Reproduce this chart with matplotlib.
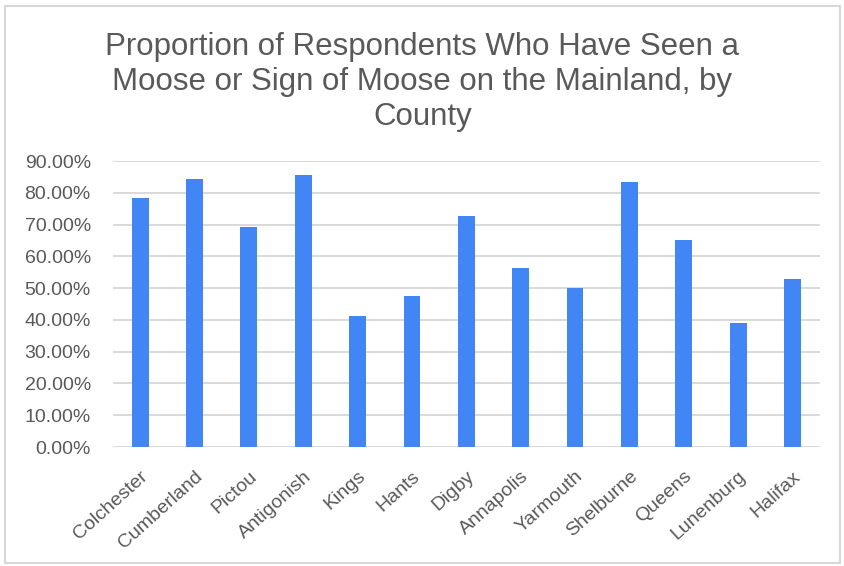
import matplotlib
matplotlib.use("Agg")
import matplotlib.pyplot as plt
from matplotlib.patches import Rectangle
from matplotlib.ticker import FuncFormatter

# share of respondents per county
counties = ["Colchester", "Cumberland", "Pictou", "Antigonish", "Kings", "Hants",
            "Digby", "Annapolis", "Yarmouth", "Shelburne", "Queens", "Lunenburg",
            "Halifax"]
proportions = [0.785, 0.845, 0.693, 0.857, 0.412, 0.475,
               0.726, 0.563, 0.499, 0.834, 0.651, 0.391, 0.530]
y_ticks = [0.0, 0.1, 0.2, 0.3, 0.4, 0.5, 0.6, 0.7, 0.8, 0.9]

plt.rcParams['font.family'] = ['Liberation Sans', 'DejaVu Sans']
txt = '#595959'

fig = plt.figure(figsize=(8.45, 5.66), dpi=100)
fig.patches.append(Rectangle((0.006, 0.006), 0.988, 0.984, transform=fig.transFigure,
                             fill=False, edgecolor='#d0d0d0', linewidth=1.2))

ax = fig.add_axes([0.1337, 0.2102, 0.8363, 0.5053])
x = range(len(counties))
ax.bar(x, proportions, width=0.31, color='#4285F4', zorder=3)

ax.set_xlim(-0.5, len(counties) - 0.5)
ax.set_ylim(0, 0.9)
ax.set_yticks(y_ticks)
ax.yaxis.set_major_formatter(FuncFormatter(lambda v, p: f"{v * 100:.2f}%"))
ax.grid(axis='y', color='#d9d9d9', linewidth=1.4, zorder=0)
ax.set_axisbelow(True)
for s in ax.spines.values():
    s.set_visible(False)
ax.tick_params(axis='both', length=0, colors=txt, labelsize=14)
ax.tick_params(axis='y', pad=16)

ax.set_xticks(list(x))
ax.set_xticklabels(counties, rotation=42, ha='right', rotation_mode='anchor')
ax.tick_params(axis='x', pad=15)

fig.text(0.5, 0.855, "Proportion of Respondents Who Have Seen a\n"
         "Moose or Sign of Moose on the Mainland, by\nCounty",
         ha='center', va='center', fontsize=22.5, color=txt, linespacing=1.2)

fig.savefig("out.png", dpi=100)
